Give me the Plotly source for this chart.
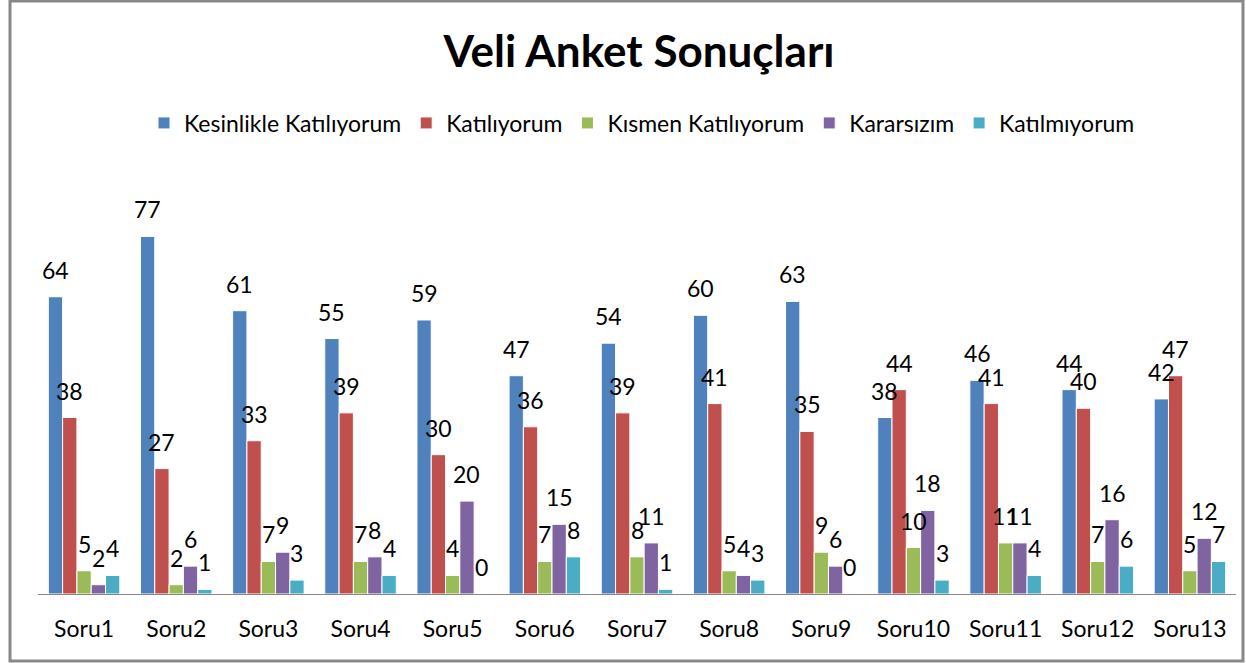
import plotly.graph_objects as go

categories = ["Soru1", "Soru2", "Soru3", "Soru4", "Soru5", "Soru6", "Soru7",
              "Soru8", "Soru9", "Soru10", "Soru11", "Soru12", "Soru13"]
series_names = ["Kesinlikle Katılıyorum", "Katılıyorum", "Kısmen Katılıyorum",
                "Kararsızım", "Katılmıyorum"]
kesinlikle = [64, 77, 61, 55, 59, 47, 54, 60, 63, 38, 46, 44, 42]
katiliyorum = [38, 27, 33, 39, 30, 36, 39, 41, 35, 44, 41, 40, 47]
kismen = [5, 2, 7, 7, 4, 7, 8, 5, 9, 10, 11, 7, 5]
kararsizim = [2, 6, 9, 8, 20, 15, 11, 4, 6, 18, 11, 16, 12]
katilmiyorum = [4, 1, 3, 4, 0, 8, 1, 3, 0, 3, 4, 6, 7]
colors = ["#4F81BD", "#C0504D", "#9BBB59", "#8064A2", "#4BACC6"]

values = [kesinlikle, katiliyorum, kismen, kararsizim, katilmiyorum]
FONT = "Lato, 'Open Sans', sans-serif"

W, H = 1246, 663
ml, mr, mt, mb = 38, 10, 176, 69
pw, ph = W - ml - mr, H - mt - mb
BARGAP = 0.224
n_series = len(values)
cat_px = pw / len(categories)
bar_px = cat_px * (1 - BARGAP) / n_series

fig = go.Figure()
annotations = []
for i, (name, vals, col) in enumerate(zip(series_names, values, colors)):
    fig.add_trace(go.Bar(
        x=categories, y=vals, name=name,
        marker=dict(color=col, line=dict(color="white", width=1)),
    ))
    for cat, v in zip(categories, vals):
        annotations.append(dict(
            x=cat, y=v, xref="x", yref="y", text=str(v), showarrow=False,
            xanchor="center", yanchor="bottom",
            xshift=(i - (n_series - 1) / 2) * bar_px, yshift=11,
            font=dict(family=FONT, size=23, color="#000000"),
        ))


def px_to_paper_x(px):
    return (px - ml) / pw


def px_to_paper_y(py):
    return (H - mb - py) / ph


fig.update_layout(
    width=W, height=H,
    margin=dict(l=ml, r=mr, t=mt, b=mb, pad=0),
    paper_bgcolor="white", plot_bgcolor="white",
    barmode="group", bargap=BARGAP, bargroupgap=0,
    title=dict(text="<b>Veli Anket Sonuçları</b>", x=639 / W, xanchor="center",
               y=1 - 52 / H, yanchor="middle",
               font=dict(family=FONT, size=44, color="#000000")),
    legend=dict(orientation="h", x=px_to_paper_x(642), xanchor="center",
                y=px_to_paper_y(123), yanchor="middle",
                font=dict(family=FONT, size=23, color="#000000"),
                itemwidth=30, traceorder="normal"),
    xaxis=dict(showline=True, linecolor="#888888", linewidth=1,
               ticks="", showgrid=False, ticklabelstandoff=14,
               tickfont=dict(family=FONT, size=23, color="#000000")),
    yaxis=dict(range=[0, 90], visible=False, showgrid=False),
    annotations=annotations,
    shapes=[dict(type="rect", xref="paper", yref="paper",
                 x0=px_to_paper_x(10), x1=px_to_paper_x(1243),
                 y0=px_to_paper_y(661), y1=px_to_paper_y(1),
                 line=dict(color="#888888", width=3), fillcolor="rgba(0,0,0,0)",
                 layer="above")],
)

fig.write_html("out.html", config={"displayModeBar": False},
               post_script="document.body.style.margin='0';document.body.style.overflow='hidden';")
